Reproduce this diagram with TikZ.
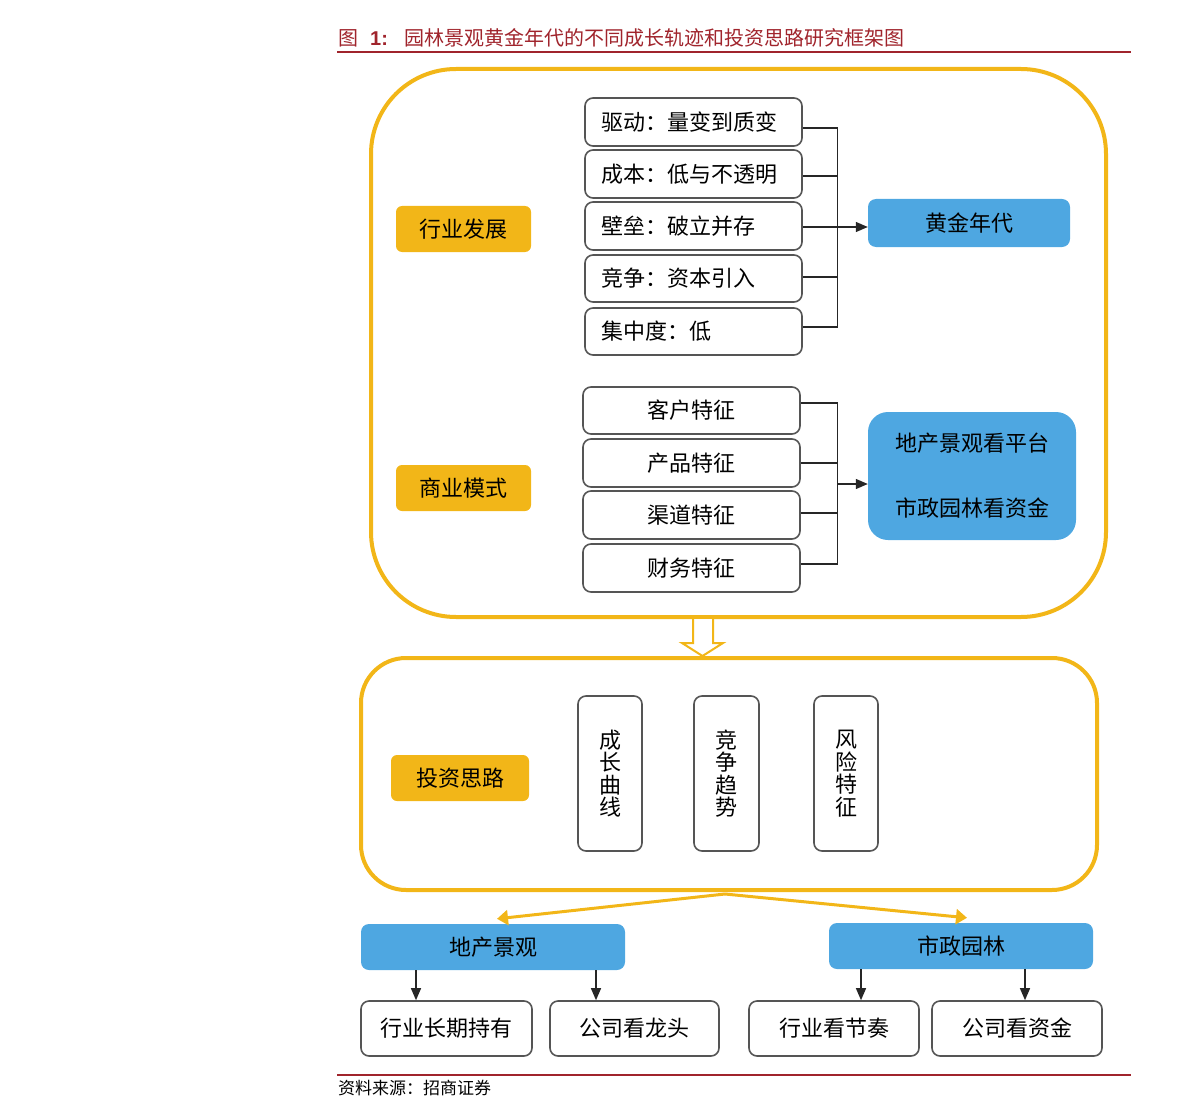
\documentclass[tikz,border=0pt]{standalone}
\usepackage{fontspec}
\newfontfamily\cjk{Noto Sans CJK SC}
\newfontfamily\latb{Liberation Sans}
\usetikzlibrary{arrows.meta,calc}
\definecolor{gold}{RGB}{242,182,24}
\definecolor{sky}{RGB}{78,167,225}
\definecolor{edge}{RGB}{85,85,85}
\definecolor{titlered}{RGB}{160,36,44}
\begin{document}
\begin{tikzpicture}[x=1pt,y=-1pt,
  every node/.style={font=\cjk\fontsize{22pt}{26pt}\selectfont, inner sep=0pt, text=black},
  frame/.style={draw=gold, line width=4pt},
  wbox/.style={draw=edge, line width=1.6pt, rounded corners=8pt, fill=white},
  gbox/.style={fill=gold, rounded corners=6pt},
  bbox/.style={fill=sky, rounded corners=8pt},
  conn/.style={draw=black!85, line width=1.3pt},
  arr/.style={draw=black!85, line width=1.3pt, -{Triangle[width=10pt,length=12pt]}},
  oarr/.style={draw=gold, line width=3pt, -{Triangle[width=15pt,length=11pt]}},
  vtext/.style={align=center, font=\cjk\fontsize{22pt}{22.5pt}\selectfont}
]
\useasboundingbox (0,0) rectangle (1191,1118);

% title
\node[anchor=west, text=titlered, font=\cjk\fontsize{20pt}{24pt}\selectfont] (title) at (338,38)
  {图\hspace{12pt}{\latb\bfseries 1:}\hspace{17pt}园林景观黄金年代的不同成长轨迹和投资思路研究框架图};
\coordinate (tl) at (337,52); \coordinate (tr) at (1131,52);
\draw[titlered, line width=2pt] (tl) -- (tr);

% big frames
\node[frame, rounded corners=85pt, minimum width=735pt, minimum height=548pt] (r1) at (738.5,343) {};
\node[frame, rounded corners=45pt, minimum width=736pt, minimum height=232pt] (r2) at (729,774) {};

% hollow down arrow between frames
\filldraw[draw=gold, fill=white, line width=2pt]
  (693,619) -- (693,643) -- (682,643) -- (702.5,656) -- (723,643) -- (713,643) -- (713,619);

% orange labels
\node[gbox, minimum width=135pt, minimum height=46pt] (l1) at (463.5,229) {行业发展};
\node[gbox, minimum width=135pt, minimum height=46pt] (l2) at (463.5,488) {商业模式};
\node[gbox, minimum width=138pt, minimum height=46pt] (l3) at (460,778) {投资思路};

% industry development boxes
\foreach \n/\y/\h/\t in {d1/122/48/驱动：量变到质变, d2/174/48/成本：低与不透明, d3/226/48/壁垒：破立并存, d4/278.5/47/竞争：资本引入, d5/331.5/47/集中度：低}
  \node[wbox, text width=185pt, align=left, inner xsep=16pt, minimum height=\h pt] (\n) at (693.5,\y) {\t};

\foreach \n/\dy in {d1/6, d2/2, d3/1, d4/-1.5, d5/-4.5}
  \draw[conn] ([shift={(0,\dy)}]\n.east) -- ++(35,0);
\draw[conn] ([shift={(35,6)}]d1.east) -- ([shift={(35,-4.5)}]d5.east);

\node[bbox, minimum width=202pt, minimum height=48pt] (g1) at (969,223) {黄金年代};
\coordinate (dj) at ([shift={(35,1)}]d3.east);
\draw[arr] (dj) -- (dj -| g1.west);

% business model boxes
\foreach \n/\y/\h/\t in {c1/410.5/47/客户特征, c2/463/48/产品特征, c3/515/48/渠道特征, c4/568/48/财务特征}
  \node[wbox, minimum width=217pt, minimum height=\h pt] (\n) at (691.5,\y) {\t};

\foreach \n/\dy in {c1/-7.5, c2/0, c3/-2, c4/-4}
  \draw[conn] ([shift={(0,\dy)}]\n.east) -- ++(37,0);
\draw[conn] ([shift={(37,-7.5)}]c1.east) -- ([shift={(37,-4)}]c4.east);

\node[bbox, rounded corners=20pt, minimum width=208pt, minimum height=128pt, align=center,
  font=\cjk\fontsize{22pt}{65pt}\selectfont] (bb) at (972,476) {地产景观看平台\\市政园林看资金};
\coordinate (bbin) at ([shift={(0,8)}]bb.west);
\coordinate (cj) at ([xshift=37pt]c2.east);
\draw[arr] (cj |- bbin) -- (bbin);

% investment idea vertical boxes
\node[wbox, minimum width=64pt, minimum height=155pt, vtext] (v1) at (610,773.5) {成\\长\\曲\\线};
\node[wbox, minimum width=65pt, minimum height=155pt, vtext] (v2) at (726.5,773.5) {竞\\争\\趋\\势};
\node[wbox, minimum width=64pt, minimum height=155pt, vtext] (v3) at (846,773.5) {风\\险\\特\\征};

% bottom blue boxes
\node[bbox, minimum width=264pt, minimum height=46pt] (b1) at (493,947) {地产景观};
\node[bbox, minimum width=264pt, minimum height=46pt] (b2) at (961,946) {市政园林};

\draw[oarr] ([shift={(-4,2)}]r2.south) -- ([shift={(4,-5)}]b1.north);
\draw[oarr] ([shift={(-4,2)}]r2.south) -- ([shift={(6,-5)}]b2.north);

% bottom white boxes
\node[wbox, minimum width=171pt, minimum height=55pt] (w1) at (446.5,1028.5) {行业长期持有};
\node[wbox, minimum width=169pt, minimum height=55pt] (w2) at (634.5,1028.5) {公司看龙头};
\node[wbox, minimum width=170pt, minimum height=55pt] (w3) at (834,1028.5) {行业看节奏};
\node[wbox, minimum width=170pt, minimum height=55pt] (w4) at (1017,1028.5) {公司看资金};

\draw[arr] ([xshift=-30.5pt]w1.north |- b1.south) -- ([xshift=-30.5pt]w1.north);
\draw[arr] ([xshift=-38.5pt]w2.north |- b1.south) -- ([xshift=-38.5pt]w2.north);
\draw[arr] ([xshift=27pt]w3.north |- b2.south) -- ([xshift=27pt]w3.north);
\draw[arr] ([xshift=8pt]w4.north |- b2.south) -- ([xshift=8pt]w4.north);

% source
\coordinate (bl) at (337,1075); \coordinate (br) at (1131,1075);
\draw[titlered, line width=2pt] (bl) -- (br);
\node[anchor=west, font=\cjk\fontsize{17pt}{20pt}\selectfont] (src) at (338,1088) {资料来源：招商证券};
\end{tikzpicture}
\end{document}
